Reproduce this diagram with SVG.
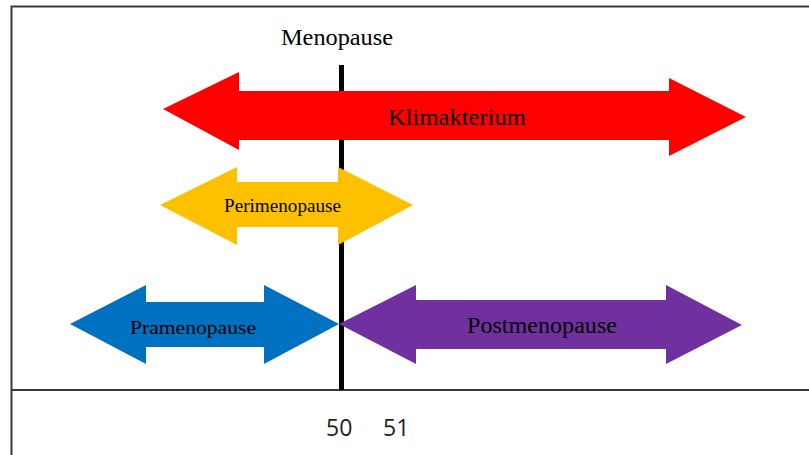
<svg xmlns="http://www.w3.org/2000/svg" width="809" height="455" viewBox="0 0 809 455">
<style>
.frame{fill:none;stroke:#3a3a3a;stroke-width:2}
.lbl{font-family:"Liberation Serif","Times New Roman",serif;fill:#000}
.num{font-family:"Open Sans","Liberation Sans",sans-serif;fill:#222;font-size:23px}
</style>
<rect width="809" height="455" fill="#fff"/>
<g id="frame">
<path class="frame" d="M11.5,455 V6.5 H809"/>
<line class="frame" x1="11.5" y1="390" x2="809" y2="390"/>
</g>
<g id="connectors">
<line x1="341.5" y1="65" x2="341.5" y2="390" stroke="#000" stroke-width="5"/>
</g>
<g id="klimakterium">
<polygon fill="#ff0000" points="163,109 239,72 239,91 669,91 669,78 746,117 669,156 669,140 239,140 239,150"/>
<text class="lbl" x="388" y="125" font-size="24" textLength="138" lengthAdjust="spacingAndGlyphs">Klimakterium</text>
</g>
<g id="perimenopause">
<polygon fill="#ffc000" points="160,205 237,167 237,182 338,182 338,167 413,205 338,245 338,227 237,227 237,245"/>
<text class="lbl" x="224" y="212" font-size="18" textLength="117" lengthAdjust="spacingAndGlyphs">Perimenopause</text>
</g>
<g id="menopause">
<text class="lbl" x="281" y="45" font-size="24" textLength="112" lengthAdjust="spacingAndGlyphs">Menopause</text>
</g>
<g id="pramenopause">
<polygon fill="#0070c0" points="70,324 146,285 146,302 264,302 264,285 339,324 264,364 264,347 146,347 146,364"/>
<text class="lbl" x="130" y="334" font-size="19" textLength="126" lengthAdjust="spacingAndGlyphs">Pramenopause</text>
</g>
<g id="postmenopause">
<polygon fill="#7030a0" points="339,324 416,285 416,300 666,300 666,285 742,325 666,364 666,349 416,349 416,364"/>
<text class="lbl" x="467" y="333" font-size="24" textLength="150" lengthAdjust="spacingAndGlyphs">Postmenopause</text>
</g>
<g id="axis-labels">
<text class="num" x="326" y="436">50</text>
<text class="num" x="383" y="436">51</text>
</g>
</svg>
